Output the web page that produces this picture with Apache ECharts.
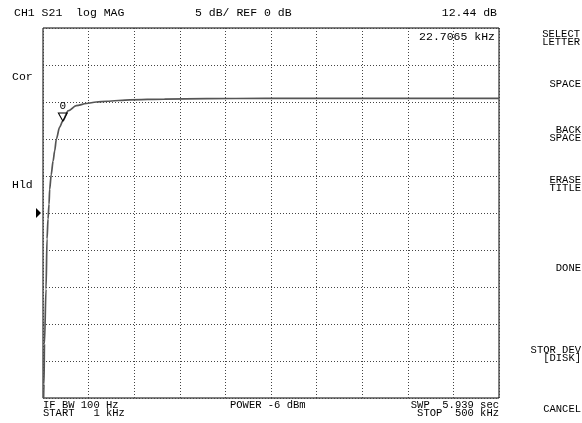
<!DOCTYPE html>
<html>
<head>
<meta charset="utf-8">
<script src="https://cdn.jsdelivr.net/npm/echarts@6/dist/echarts.min.js"></script>
<style>html,body{margin:0;padding:0;background:#fff;}#c{width:582px;height:423px;}</style>
</head>
<body>
<div id="c"></div>
<script>
// Frequency (kHz) and S21 log magnitude (dB)
var freqKHz = [1, 2.1, 2.6, 4.3, 5.4, 6.5, 7.6, 8.3, 10, 12, 13.8, 15.6, 19.2, 22.7065, 28.4, 37.5, 48.4, 59.3, 71, 96, 134, 180, 244, 320, 400, 500];
var magDb  = [-30, -23.1, -17.7, -10.3, -3.5, -0.8, 1.2, 3.2, 5.2, 7.0, 8.4, 10.0, 11.6, 12.44, 13.8, 14.5, 14.8, 15.0, 15.1, 15.3, 15.4, 15.45, 15.5, 15.5, 15.5, 15.5];
var marker = {freq: 22.7065, db: 12.44, label: '0'};
var xRange = [1, 500];
var yRange = [-25, 25];
var yStep = 5;
var xDivisions = 10;

var FONT = '"Liberation Mono", "DejaVu Sans Mono", monospace';
var chart = echarts.init(document.getElementById('c'), null, {renderer: 'canvas'});

function txt(x, y, s, align, size) {
  return {type: 'text', x: x, y: y, style: {text: s, fill: '#000', font: (size || 11.5) + 'px ' + FONT, textAlign: align || 'left', textVerticalAlign: 'middle'}, silent: true};
}

var series = [{
  type: 'line',
  xAxisIndex: 0, yAxisIndex: 0,
  data: freqKHz.map(function (f, i) { return [f, magDb[i]]; }),
  showSymbol: false,
  smooth: 0.3,
  smoothMonotone: 'x',
  clip: true,
  lineStyle: {color: '#555', width: 1.7},
  markPoint: {
    symbol: 'triangle', symbolRotate: 180, symbolSize: [9, 8], symbolOffset: [0, -4],
    itemStyle: {color: 'rgba(0,0,0,0)', borderColor: '#000', borderWidth: 1},
    label: {show: true, position: 'top', distance: 1, formatter: marker.label, color: '#000', fontSize: 11, fontFamily: FONT},
    data: [{coord: [marker.freq, marker.db]}]
  }
}];

var option = {
  backgroundColor: '#fff',
  animation: false,
  grid: {left: 43, right: 83, top: 28, bottom: 25, show: true, borderColor: '#000', borderWidth: 1, backgroundColor: 'transparent'},
  xAxis: [
    {type: 'value', min: xRange[0], max: xRange[1], axisLine: {show: false}, axisTick: {show: false}, axisLabel: {show: false}, splitLine: {show: false}},
    {type: 'value', min: 0, max: xDivisions, interval: 1, position: 'bottom', axisLine: {show: false}, axisTick: {show: false}, axisLabel: {show: false},
     splitLine: {show: true, lineStyle: {color: '#444', width: 1, type: [1, 2]}}}
  ],
  yAxis: [
    {type: 'value', min: yRange[0], max: yRange[1], interval: yStep, axisLine: {show: false}, axisTick: {show: false}, axisLabel: {show: false},
     splitLine: {show: true, lineStyle: {color: '#444', width: 1, type: [1, 2]}}}
  ],
  series: series
};
chart.setOption(option);

var refY = chart.convertToPixel({yAxisIndex: 0}, 0);
var left = chart.convertToPixel({xAxisIndex: 0}, xRange[0]);

chart.setOption({
  graphic: [
    {type: 'polygon', shape: {points: [[left - 7, refY - 5], [left - 2, refY], [left - 7, refY + 5]]}, style: {fill: '#000'}, silent: true},
    txt(14, 13, 'CH1 S21  log MAG'),
    txt(195, 13, '5 dB/ REF 0 dB'),
    txt(497, 13, '12.44 dB', 'right'),
    txt(495, 37, '22.7065 kHz', 'right'),
    txt(12, 77, 'Cor'),
    txt(12, 185, 'Hld'),
    txt(580, 34, 'SELECT', 'right', 10.5),
    txt(580, 42, 'LETTER', 'right', 10.5),
    txt(581, 84, 'SPACE', 'right', 10.5),
    txt(581, 130, 'BACK', 'right', 10.5),
    txt(581, 138, 'SPACE', 'right', 10.5),
    txt(581, 180, 'ERASE', 'right', 10.5),
    txt(581, 188, 'TITLE', 'right', 10.5),
    txt(581, 268, 'DONE', 'right', 10.5),
    txt(581, 350, 'STOR DEV', 'right', 10.5),
    txt(581, 358, '[DISK]', 'right', 10.5),
    txt(581, 409, 'CANCEL', 'right', 10.5),
    txt(43, 405, 'IF BW 100 Hz', 'left', 10.5),
    txt(43, 413, 'START   1 kHz', 'left', 10.5),
    txt(230, 405, 'POWER -6 dBm', 'left', 10.5),
    txt(499, 405, 'SWP  5.939 sec', 'right', 10.5),
    txt(499, 413, 'STOP  500 kHz', 'right', 10.5)
  ]
});
</script>
</body>
</html>
